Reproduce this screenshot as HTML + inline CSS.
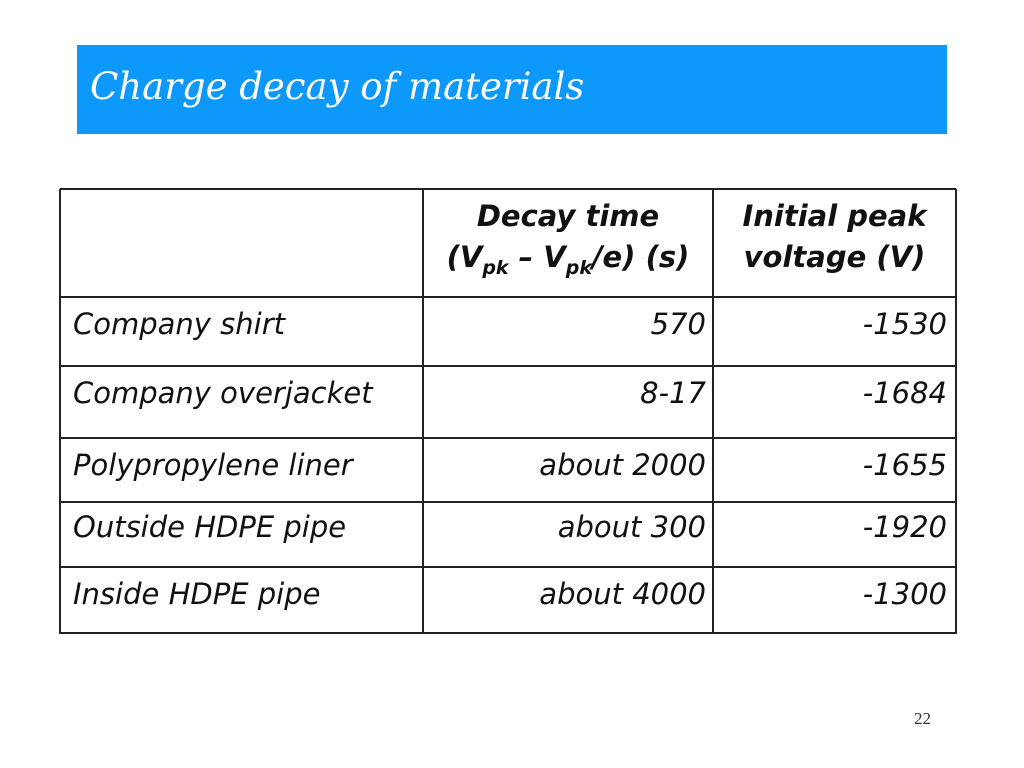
<!DOCTYPE html>
<html><head><meta charset="utf-8"><style>
body{margin:0;width:1024px;height:768px;background:#fff;position:relative;overflow:hidden;font-family:"DejaVu Sans","Liberation Sans",sans-serif;}
.t{position:absolute;font-style:italic;font-size:29px;color:#111;white-space:nowrap;line-height:1;}
.r{text-align:right;}
.h{position:absolute;font-style:italic;font-weight:bold;font-size:29px;text-align:center;color:#111;line-height:41px;}
.hl{position:absolute;left:60px;width:896px;height:2px;background:#222;}
.vl{position:absolute;top:189px;height:445px;width:2px;background:#222;}
sub{font-size:19px;vertical-align:-7px;line-height:0;}
</style></head><body>
<div style="position:absolute;left:77px;top:45px;width:870px;height:89px;background:#0d98fb;"></div>
<div style="position:absolute;left:90px;top:68px;font-family:'DejaVu Serif','Liberation Serif',serif;font-style:italic;font-size:37px;color:#fff;white-space:nowrap;line-height:1;">Charge decay of materials</div>
<div>
<div class="hl" style="top:188px"></div><div class="hl" style="top:296px"></div><div class="hl" style="top:365px"></div><div class="hl" style="top:437px"></div><div class="hl" style="top:501px"></div><div class="hl" style="top:566px"></div><div class="hl" style="top:632px"></div>
<div class="vl" style="left:59px"></div><div class="vl" style="left:422px"></div><div class="vl" style="left:712px"></div><div class="vl" style="left:955px"></div>
<div class="h" style="left:424px;width:288px;top:196px;">Decay time<br>(V<sub>pk</sub> – V<sub>pk</sub>/e) (s)</div>
<div class="h" style="left:714px;width:241px;top:196px;">Initial peak<br>voltage (V)</div>
<div class="t" style="left:73px;top:310px">Company shirt</div>
<div class="t r" style="right:318px;top:310px">570</div>
<div class="t r" style="right:77px;top:310px">-1530</div>
<div class="t" style="left:73px;top:379px">Company overjacket</div>
<div class="t r" style="right:318px;top:379px">8-17</div>
<div class="t r" style="right:77px;top:379px">-1684</div>
<div class="t" style="left:73px;top:451px">Polypropylene liner</div>
<div class="t r" style="right:318px;top:451px">about 2000</div>
<div class="t r" style="right:77px;top:451px">-1655</div>
<div class="t" style="left:73px;top:513px">Outside HDPE pipe</div>
<div class="t r" style="right:318px;top:513px">about 300</div>
<div class="t r" style="right:77px;top:513px">-1920</div>
<div class="t" style="left:73px;top:580px">Inside HDPE pipe</div>
<div class="t r" style="right:318px;top:580px">about 4000</div>
<div class="t r" style="right:77px;top:580px">-1300</div>
</div>
<div style="position:absolute;left:914px;top:709px;font-family:'Liberation Serif',serif;font-size:17px;color:#333;">22</div>
</body></html>
